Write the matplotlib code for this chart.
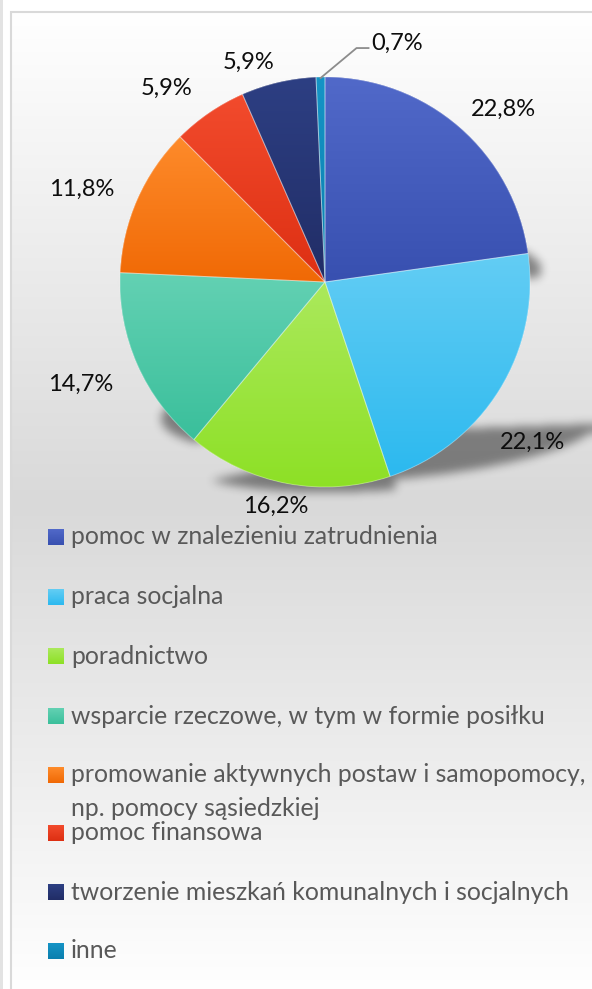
import numpy as np
import matplotlib
matplotlib.use("Agg")
import matplotlib.pyplot as plt
from matplotlib.colors import LinearSegmentedColormap
from matplotlib.path import Path
from matplotlib.patches import Rectangle, Wedge

W, H = 592, 989

# data
categories = [
    "pomoc w znalezieniu zatrudnienia",
    "praca socjalna",
    "poradnictwo",
    "wsparcie rzeczowe, w tym w formie posiłku",
    "promowanie aktywnych postaw i samopomocy,\nnp. pomocy sąsiedzkiej",
    "pomoc finansowa",
    "tworzenie mieszkań komunalnych i socjalnych",
    "inne",
]
shares = [22.8, 22.1, 16.2, 14.7, 11.8, 5.9, 5.9, 0.7]
top_colors = ["#5169c9", "#63cdf4", "#abe95c", "#63d1b3", "#fe8b2b", "#f24b2d", "#2d3f83", "#1594c6"]
bottom_colors = ["#3850b0", "#2cb9ef", "#8de025", "#3abf9b", "#f06905", "#dd2f12", "#212d66", "#0b7fae"]

plt.rcParams["font.family"] = ["Lato", "DejaVu Sans"]


def Y(p):
    # pixel row (from top) -> data y
    return H - p


fig = plt.figure(figsize=(W / 100, H / 100), dpi=100)
ax = fig.add_axes([0, 0, 1, 1])

# chart area background (vertical gradient white -> grey -> white)
rows = np.linspace(0, 1, 400)
peak = 0.5
g = np.where(rows < peak, rows / peak, (1 - rows) / (1 - peak))
bg = 1.0 - g * (1.0 - 0xd9 / 255)
bg_img = np.dstack([bg, bg, bg]).reshape(-1, 1, 3)
ax.imshow(bg_img, extent=(11, W + 5, Y(H + 5), Y(12)), origin="upper", aspect="auto", zorder=0)
ax.add_patch(Rectangle((11, Y(H + 5)), W, H - 7, fill=False, edgecolor="#d9d9d9", lw=1.5, zorder=1))
ax.add_patch(Rectangle((0, 0), 2.5, H, facecolor="#e3e3e3", edgecolor="none", zorder=1))

# pie
cx, cy, R = 325, Y(282), 205
wedges, _ = ax.pie(shares, startangle=90, counterclock=False, center=(cx, cy), radius=R,
                   wedgeprops=dict(linewidth=0), frame=True)

# perspective shadows of each slice
k, s, sdx, sdy = 0.32, 0.25, 1.0, 3.0
xs = np.arange(W) + 0.5
ys = Y(np.arange(H) + 0.5)
gx, gy = np.meshgrid(xs, ys)
pts = np.column_stack([gx.ravel(), gy.ravel()])
mask = np.zeros(len(pts), dtype=bool)
for w in wedges:
    p = w.get_path()
    v = p.vertices.copy()
    ymin = v[:, 1].min()
    h = v[:, 1] - ymin
    nv = np.column_stack([v[:, 0] + k * h + sdx, ymin + s * h - sdy])
    mask |= Path(nv, p.codes).contains_points(pts)
mask = mask.reshape(H, W).astype(float)


def box_blur(a, r):
    for axis in (0, 1):
        pad = [(0, 0), (0, 0)]
        pad[axis] = (r + 1, r)
        c = np.cumsum(np.pad(a, pad, mode="edge"), axis=axis)
        if axis == 0:
            a = (c[2 * r + 1:, :] - c[:-2 * r - 1, :]) / (2 * r + 1)
        else:
            a = (c[:, 2 * r + 1:] - c[:, :-2 * r - 1]) / (2 * r + 1)
    return a


for _ in range(3):
    mask = box_blur(mask, 4)
shadow = np.zeros((H, W, 4))
shadow[..., 3] = mask * 0.44
ax.imshow(shadow, extent=(0, W, 0, H), origin="upper", aspect="auto", zorder=2)

# gradient fill for slices
for w, c0, c1 in zip(wedges, top_colors, bottom_colors):
    v = w.get_path().vertices
    x0, x1 = v[:, 0].min(), v[:, 0].max()
    y0, y1 = v[:, 1].min(), v[:, 1].max()
    cmap = LinearSegmentedColormap.from_list("g", [c0, c1])
    w.set_facecolor(c1)
    w.set_zorder(3)
    im = ax.imshow(np.linspace(0, 1, 256).reshape(-1, 1), cmap=cmap, extent=(x0, x1, y0, y1),
                   origin="upper", aspect="auto", zorder=4)
    im.set_clip_path(w)
    ax.add_patch(Wedge(w.center, w.r, w.theta1, w.theta2, facecolor="none",
                       edgecolor=(1, 1, 1, 0.35), lw=0.7, zorder=5))

# data labels
label_tweak = [5, 6, 1.7, 1.2, -3, -5, -6]
label_rad = [248, 262, 230, 265, 260, 250, 233]
for i, (w, v) in enumerate(zip(wedges, shares)):
    txt = f"{v:.1f}%".replace(".", ",")
    a = 90 - (w.theta1 + w.theta2) / 2
    if i < len(label_tweak):
        a = np.radians(a + label_tweak[i])
        r = label_rad[i]
        ax.text(cx + r * np.sin(a), cy + r * np.cos(a), txt, ha="center", va="center",
                fontsize=17, color="#0d0d0d", zorder=6)
    else:
        # small slice: label pulled out with a leader line
        a = np.radians(a)
        sx, sy = cx + (R - 1) * np.sin(a), cy + (R - 1) * np.cos(a)
        ax.plot([sx, sx + 36, sx + 48], [sy, sy + 30, sy + 30], color="#8c8c8c", lw=1.3, zorder=6)
        ax.text(sx + 51, sy + 35, txt, ha="left", va="center", fontsize=17, color="#0d0d0d", zorder=6)

# legend
leg_y = [537, 597, 656, 716, 775, 833, 892, 951]
for lab, yy, c0, c1 in zip(categories, leg_y, top_colors, bottom_colors):
    cmap = LinearSegmentedColormap.from_list("g", [c0, c1])
    ax.imshow(np.linspace(0, 1, 64).reshape(-1, 1), cmap=cmap, extent=(48, 64, Y(yy + 8), Y(yy - 8)),
              origin="upper", aspect="auto", zorder=4)
    for j, line in enumerate(lab.split("\n")):
        ax.text(71, Y(yy + 33 * j), line, ha="left", va="center", fontsize=17.8,
                color="#595959", zorder=6)

ax.set_xlim(0, W)
ax.set_ylim(0, H)
ax.set_axis_off()
fig.savefig("out.png", dpi=100)
